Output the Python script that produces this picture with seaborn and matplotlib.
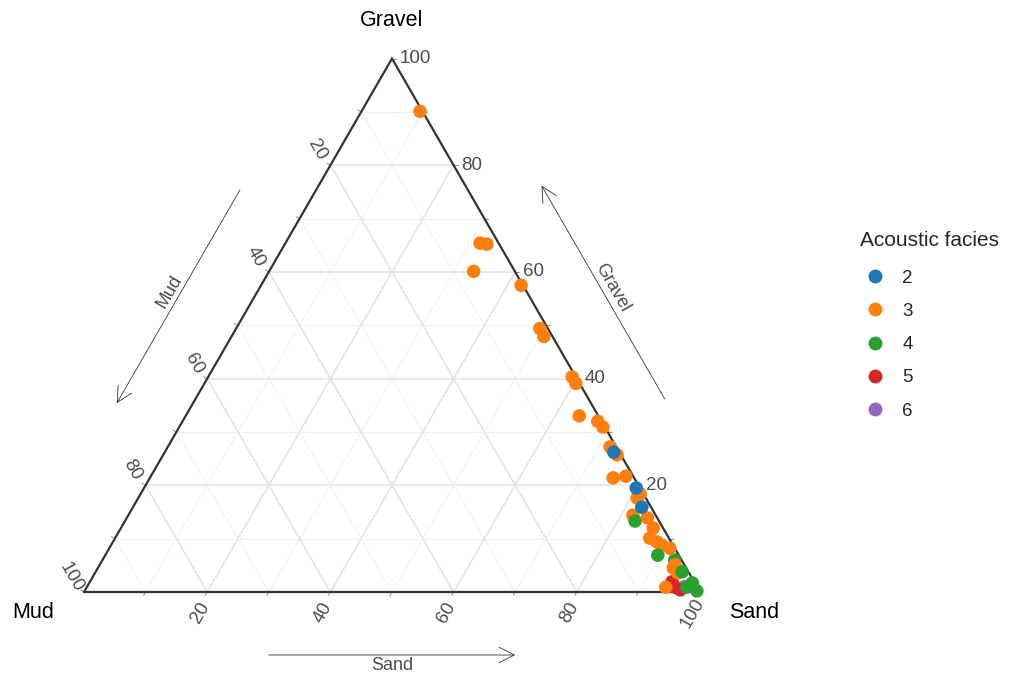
import numpy as np
import pandas as pd
import matplotlib
matplotlib.use("Agg")
import matplotlib.pyplot as plt
import seaborn as sns

# Grain-size composition (%) of each sample and its acoustic facies, in drawing order
sand = [97.0,
        95.5, 94.5, 96.6,
        92.9, 97.4, 99.4,
        9.5, 31.6, 32.8, 33.2, 42.2, 49.3, 50.7, 59.1, 60.3, 63.9, 67.4, 68.8, 71.8, 73.7,
        75.2, 77.1, 81.1, 81.0, 81.9, 84.5, 86.4, 86.8, 88.3, 89.4, 91.0, 93.4, 94.6, 93.4, 94.0,
        72.9, 79.9, 82.6,
        82.8, 89.7, 95.2, 97.9]
gravel = [1.0,
          0.9, 1.9, 0.4,
          6.0, 0.9, 0.2,
          90.1, 65.4, 65.2, 60.1, 57.5, 49.4, 47.9, 40.3, 39.1, 33.0, 32.0, 30.9, 27.2, 25.7,
          21.4, 21.7, 18.4, 17.6, 14.4, 13.9, 12.0, 10.1, 9.4, 8.8, 8.2, 4.5, 3.6, 5.1, 0.9,
          26.2, 19.5, 15.9,
          13.3, 6.9, 3.8, 1.7]
mud = [2.0,
       3.6, 3.6, 3.0,
       1.1, 1.7, 0.4,
       0.4, 3.0, 2.0, 6.7, 0.3, 1.3, 1.4, 0.6, 0.6, 3.1, 0.6, 0.3, 1.0, 0.6,
       3.4, 1.2, 0.5, 1.4, 3.7, 1.6, 1.6, 3.1, 2.3, 1.8, 0.8, 2.1, 1.8, 1.5, 5.1,
       0.9, 0.6, 1.5,
       3.9, 3.4, 1.0, 0.4]
facies = ["6"] + ["5"] * 3 + ["4"] * 3 + ["3"] * 29 + ["2"] * 3 + ["4"] * 4

facies_levels = ["2", "3", "4", "5", "6"]
facies_colors = ["#1f77b4", "#ff7f0e", "#2ca02c", "#d62728", "#9467bd"]
tick_values = [20, 40, 60, 80, 100]

H = np.sqrt(3) / 2
PX = 1 / 616.0  # data units per output pixel


def to_xy(s, g):
    return s + g / 2.0, g * H


df = pd.DataFrame({"Sand": sand, "Gravel": gravel, "Mud": mud, "facies": facies})
tot = df[["Sand", "Gravel", "Mud"]].sum(axis=1)
s_frac = df["Sand"] / tot
g_frac = df["Gravel"] / tot
df["x"], df["y"] = to_xy(s_frac, g_frac)

sns.set_theme(style="white")
plt.rcParams["font.family"] = ["Liberation Sans", "DejaVu Sans"]

fig = plt.figure(figsize=(10.13, 6.75), dpi=100)
ax = fig.add_axes([0, 0, 1, 1])
XLIM = (-84 * PX, (1013 - 84) * PX)
YLIM = (-(675 - 592) * PX, 592 * PX)
ax.set_xlim(*XLIM)
ax.set_ylim(*YLIM)
ax.axis("off")

# grid
for k in range(1, 10):
    v = k / 10
    major = k % 2 == 0
    kw = dict(color="#e4e4e4" if major else "#ededed", lw=1.2 if major else 0.6, zorder=1)
    a, b = to_xy(1 - v, v), to_xy(0, v)          # constant gravel
    ax.plot([a[0], b[0]], [a[1], b[1]], **kw)
    a, b = to_xy(v, 0), to_xy(v, 1 - v)          # constant sand
    ax.plot([a[0], b[0]], [a[1], b[1]], **kw)
    a, b = to_xy(1 - v, 0), to_xy(0, 1 - v)      # constant mud
    ax.plot([a[0], b[0]], [a[1], b[1]], **kw)

# ticks
tick_len = 4 * PX
for k in range(1, 11):
    v = k / 10
    kw = dict(color="#7f7f7f", lw=0.6, zorder=2)
    gx, gy = to_xy(1 - v, v)
    ax.plot([gx, gx + tick_len], [gy, gy], **kw)
    sx, sy = to_xy(v, 0)
    ax.plot([sx, sx - 0.5 * tick_len], [sy, sy - H * tick_len], **kw)
    mx, my = to_xy(0, 1 - v)
    ax.plot([mx, mx - H * tick_len], [my, my + 0.5 * tick_len], **kw)

# border
corners = [to_xy(0, 0), to_xy(1, 0), to_xy(0, 1), to_xy(0, 0)]
ax.plot([c[0] for c in corners], [c[1] for c in corners], color="#333333", lw=1.6,
        solid_joinstyle="miter", zorder=4)

# tick labels
tick_kw = dict(fontsize=13.5, color="#4d4d4d", zorder=5)
for t in tick_values:
    v = t / 100
    gx, gy = to_xy(1 - v, v)
    ax.text(gx + 8 * PX, gy, str(t), ha="left", va="center", **tick_kw)
    sx, sy = to_xy(v, 0)
    ax.text(sx - 7 * PX, sy - 21 * PX, str(t), ha="center", va="center", rotation=60,
            rotation_mode="anchor", **tick_kw)
    mx, my = to_xy(0, 1 - v)
    ax.text(mx - 13 * PX, my + 15 * PX, str(t), ha="center", va="center", rotation=-60,
            rotation_mode="anchor", **tick_kw)

# vertex titles
title_kw = dict(fontsize=15.5, color="black", ha="center", va="center")
ax.text(0.5, H + 38 * PX, "Gravel", **title_kw)
ax.text(-51 * PX, -21 * PX, "Mud", **title_kw)
ax.text(1 + 54 * PX, -21 * PX, "Sand", **title_kw)

# direction arrows
d = 66 * PX
arrow_kw = dict(arrowstyle="->,head_length=0.55,head_width=0.28", color="#333333",
                lw=0.6, mutation_scale=20, shrinkA=0, shrinkB=0)
lab_kw = dict(fontsize=13, color="#4d4d4d", ha="center", va="center")


def edge_left(t, off):
    return 0.5 * t - 0.866 * off, H * t + 0.5 * off


def edge_right(t, off):
    return 1 - 0.5 * t + 0.866 * off, H * t + 0.5 * off


ax.annotate("", xy=edge_left(0.292, d), xytext=edge_left(0.692, d), arrowprops=arrow_kw)
ax.text(*edge_left(0.492, d + 10 * PX), "Mud", rotation=60, **lab_kw)
ax.annotate("", xy=edge_right(0.7, d), xytext=edge_right(0.3, d), arrowprops=arrow_kw)
ax.text(*edge_right(0.5, d + 10 * PX), "Gravel", rotation=-60, **lab_kw)
ax.annotate("", xy=(0.7, -63 * PX), xytext=(0.3, -63 * PX), arrowprops=arrow_kw)
ax.text(0.5, -74 * PX, "Sand", **lab_kw)

# samples
sns.scatterplot(data=df, x="x", y="y", hue="facies", hue_order=facies_levels,
                palette=dict(zip(facies_levels, facies_colors)), s=95, linewidth=0,
                alpha=1, ax=ax, zorder=6, clip_on=False)

ax.set_xlim(*XLIM)
ax.set_ylim(*YLIM)
ax.set_xlabel("")
ax.set_ylabel("")

sns.move_legend(ax, loc="upper left", bbox_to_anchor=(860 / 1013, 1 - 231 / 675),
                frameon=False, title="Acoustic facies", fontsize=13.5, title_fontsize=15,
                labelspacing=0.86, handlelength=1.6, handletextpad=0.65,
                borderaxespad=0, borderpad=0)
leg = ax.get_legend()
leg._legend_box.align = "left"
leg._legend_box.sep = leg._legend_box.sep + 2.5
for h in leg.legend_handles:
    h.set_markersize(10)

fig.savefig("out.png", dpi=100)
